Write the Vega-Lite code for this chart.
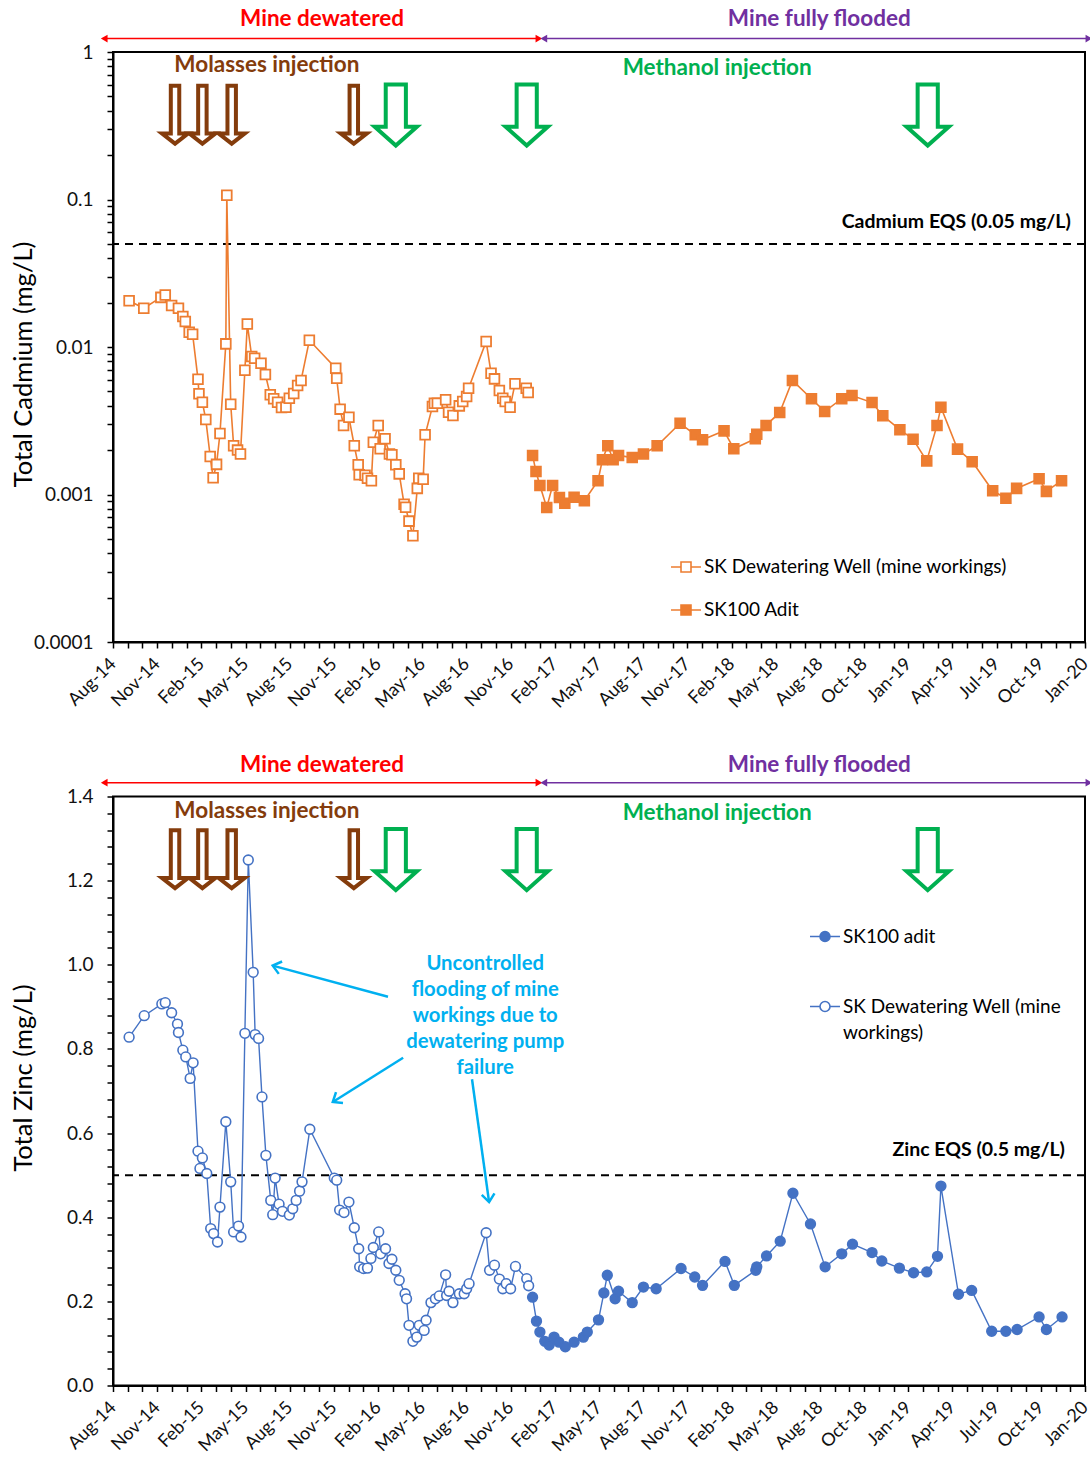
{
  "$schema": "https://vega.github.io/schema/vega-lite/v6.json",
  "background": "white",
  "padding": {"left": 10, "top": 7, "right": 0, "bottom": 0},
  "config": {
    "font": "Lato",
    "view": {"stroke": "black", "strokeWidth": 2},
    "style": {"guide-label": {"lineHeight": 26}},
    "axis": {"grid": false, "domainColor": "black", "domainWidth": 2, "tickColor": "black", "tickWidth": 1.5, "tickSize": 6, "labelColor": "#111111", "titleColor": "black", "titleFontWeight": "normal", "labelOverlap": false, "labelFlush": false, "labelBound": false, "tickCount": 1000},
    "legend": {"padding": 0}
  },
  "datasets": {
    "cd": [
      {"date": "2014-09-17", "value": 0.0206, "series": "SK Dewatering Well (mine workings)"},
      {"date": "2014-10-17", "value": 0.0183, "series": "SK Dewatering Well (mine workings)"},
      {"date": "2014-11-21", "value": 0.0217, "series": "SK Dewatering Well (mine workings)"},
      {"date": "2014-11-30", "value": 0.0225, "series": "SK Dewatering Well (mine workings)"},
      {"date": "2014-12-13", "value": 0.0191, "series": "SK Dewatering Well (mine workings)"},
      {"date": "2014-12-27", "value": 0.0183, "series": "SK Dewatering Well (mine workings)"},
      {"date": "2015-01-05", "value": 0.0161, "series": "SK Dewatering Well (mine workings)"},
      {"date": "2015-01-10", "value": 0.0149, "series": "SK Dewatering Well (mine workings)"},
      {"date": "2015-01-18", "value": 0.0126, "series": "SK Dewatering Well (mine workings)"},
      {"date": "2015-01-25", "value": 0.0122, "series": "SK Dewatering Well (mine workings)"},
      {"date": "2015-02-05", "value": 0.00605, "series": "SK Dewatering Well (mine workings)"},
      {"date": "2015-02-07", "value": 0.00482, "series": "SK Dewatering Well (mine workings)"},
      {"date": "2015-02-14", "value": 0.00422, "series": "SK Dewatering Well (mine workings)"},
      {"date": "2015-02-21", "value": 0.00322, "series": "SK Dewatering Well (mine workings)"},
      {"date": "2015-03-02", "value": 0.00181, "series": "SK Dewatering Well (mine workings)"},
      {"date": "2015-03-08", "value": 0.0013, "series": "SK Dewatering Well (mine workings)"},
      {"date": "2015-03-15", "value": 0.0016, "series": "SK Dewatering Well (mine workings)"},
      {"date": "2015-03-22", "value": 0.00259, "series": "SK Dewatering Well (mine workings)"},
      {"date": "2015-04-03", "value": 0.0105, "series": "SK Dewatering Well (mine workings)"},
      {"date": "2015-04-05", "value": 0.107, "series": "SK Dewatering Well (mine workings)"},
      {"date": "2015-04-13", "value": 0.00409, "series": "SK Dewatering Well (mine workings)"},
      {"date": "2015-04-19", "value": 0.00214, "series": "SK Dewatering Well (mine workings)"},
      {"date": "2015-04-27", "value": 0.0020, "series": "SK Dewatering Well (mine workings)"},
      {"date": "2015-05-03", "value": 0.00188, "series": "SK Dewatering Well (mine workings)"},
      {"date": "2015-05-12", "value": 0.00696, "series": "SK Dewatering Well (mine workings)"},
      {"date": "2015-05-17", "value": 0.0143, "series": "SK Dewatering Well (mine workings)"},
      {"date": "2015-05-26", "value": 0.00862, "series": "SK Dewatering Well (mine workings)"},
      {"date": "2015-06-01", "value": 0.0084, "series": "SK Dewatering Well (mine workings)"},
      {"date": "2015-06-14", "value": 0.00777, "series": "SK Dewatering Well (mine workings)"},
      {"date": "2015-06-23", "value": 0.00651, "series": "SK Dewatering Well (mine workings)"},
      {"date": "2015-07-03", "value": 0.00474, "series": "SK Dewatering Well (mine workings)"},
      {"date": "2015-07-10", "value": 0.00446, "series": "SK Dewatering Well (mine workings)"},
      {"date": "2015-07-18", "value": 0.00422, "series": "SK Dewatering Well (mine workings)"},
      {"date": "2015-07-26", "value": 0.00389, "series": "SK Dewatering Well (mine workings)"},
      {"date": "2015-08-04", "value": 0.00391, "series": "SK Dewatering Well (mine workings)"},
      {"date": "2015-08-11", "value": 0.0045, "series": "SK Dewatering Well (mine workings)"},
      {"date": "2015-08-20", "value": 0.00484, "series": "SK Dewatering Well (mine workings)"},
      {"date": "2015-08-28", "value": 0.00548, "series": "SK Dewatering Well (mine workings)"},
      {"date": "2015-09-04", "value": 0.00593, "series": "SK Dewatering Well (mine workings)"},
      {"date": "2015-09-21", "value": 0.0111, "series": "SK Dewatering Well (mine workings)"},
      {"date": "2015-11-14", "value": 0.00718, "series": "SK Dewatering Well (mine workings)"},
      {"date": "2015-11-16", "value": 0.00614, "series": "SK Dewatering Well (mine workings)"},
      {"date": "2015-11-23", "value": 0.00379, "series": "SK Dewatering Well (mine workings)"},
      {"date": "2015-11-30", "value": 0.00294, "series": "SK Dewatering Well (mine workings)"},
      {"date": "2015-12-11", "value": 0.00334, "series": "SK Dewatering Well (mine workings)"},
      {"date": "2015-12-22", "value": 0.00214, "series": "SK Dewatering Well (mine workings)"},
      {"date": "2015-12-30", "value": 0.00159, "series": "SK Dewatering Well (mine workings)"},
      {"date": "2016-01-01", "value": 0.00136, "series": "SK Dewatering Well (mine workings)"},
      {"date": "2016-01-13", "value": 0.00135, "series": "SK Dewatering Well (mine workings)"},
      {"date": "2016-01-18", "value": 0.00129, "series": "SK Dewatering Well (mine workings)"},
      {"date": "2016-01-26", "value": 0.00124, "series": "SK Dewatering Well (mine workings)"},
      {"date": "2016-01-30", "value": 0.00226, "series": "SK Dewatering Well (mine workings)"},
      {"date": "2016-02-09", "value": 0.00294, "series": "SK Dewatering Well (mine workings)"},
      {"date": "2016-02-13", "value": 0.00204, "series": "SK Dewatering Well (mine workings)"},
      {"date": "2016-02-23", "value": 0.00239, "series": "SK Dewatering Well (mine workings)"},
      {"date": "2016-03-03", "value": 0.00188, "series": "SK Dewatering Well (mine workings)"},
      {"date": "2016-03-08", "value": 0.00186, "series": "SK Dewatering Well (mine workings)"},
      {"date": "2016-03-16", "value": 0.00159, "series": "SK Dewatering Well (mine workings)"},
      {"date": "2016-03-23", "value": 0.00138, "series": "SK Dewatering Well (mine workings)"},
      {"date": "2016-04-02", "value": 0.00086, "series": "SK Dewatering Well (mine workings)"},
      {"date": "2016-04-05", "value": 0.00082, "series": "SK Dewatering Well (mine workings)"},
      {"date": "2016-04-12", "value": 0.00066, "series": "SK Dewatering Well (mine workings)"},
      {"date": "2016-04-20", "value": 0.000525, "series": "SK Dewatering Well (mine workings)"},
      {"date": "2016-04-29", "value": 0.0011, "series": "SK Dewatering Well (mine workings)"},
      {"date": "2016-05-02", "value": 0.00129, "series": "SK Dewatering Well (mine workings)"},
      {"date": "2016-05-11", "value": 0.00127, "series": "SK Dewatering Well (mine workings)"},
      {"date": "2016-05-15", "value": 0.00254, "series": "SK Dewatering Well (mine workings)"},
      {"date": "2016-05-30", "value": 0.00395, "series": "SK Dewatering Well (mine workings)"},
      {"date": "2016-06-03", "value": 0.00416, "series": "SK Dewatering Well (mine workings)"},
      {"date": "2016-06-09", "value": 0.00416, "series": "SK Dewatering Well (mine workings)"},
      {"date": "2016-06-26", "value": 0.00439, "series": "SK Dewatering Well (mine workings)"},
      {"date": "2016-07-02", "value": 0.00361, "series": "SK Dewatering Well (mine workings)"},
      {"date": "2016-07-11", "value": 0.00343, "series": "SK Dewatering Well (mine workings)"},
      {"date": "2016-07-24", "value": 0.00399, "series": "SK Dewatering Well (mine workings)"},
      {"date": "2016-07-31", "value": 0.00427, "series": "SK Dewatering Well (mine workings)"},
      {"date": "2016-08-08", "value": 0.00462, "series": "SK Dewatering Well (mine workings)"},
      {"date": "2016-08-12", "value": 0.00526, "series": "SK Dewatering Well (mine workings)"},
      {"date": "2016-09-17", "value": 0.0109, "series": "SK Dewatering Well (mine workings)"},
      {"date": "2016-09-27", "value": 0.00664, "series": "SK Dewatering Well (mine workings)"},
      {"date": "2016-10-04", "value": 0.00608, "series": "SK Dewatering Well (mine workings)"},
      {"date": "2016-10-14", "value": 0.00507, "series": "SK Dewatering Well (mine workings)"},
      {"date": "2016-10-21", "value": 0.0045, "series": "SK Dewatering Well (mine workings)"},
      {"date": "2016-10-26", "value": 0.00427, "series": "SK Dewatering Well (mine workings)"},
      {"date": "2016-11-05", "value": 0.00391, "series": "SK Dewatering Well (mine workings)"},
      {"date": "2016-11-15", "value": 0.00563, "series": "SK Dewatering Well (mine workings)"},
      {"date": "2016-12-08", "value": 0.00526, "series": "SK Dewatering Well (mine workings)"},
      {"date": "2016-12-12", "value": 0.00492, "series": "SK Dewatering Well (mine workings)"},
      {"date": "2016-12-21", "value": 0.00184, "series": "SK100 Adit"},
      {"date": "2016-12-28", "value": 0.00143, "series": "SK100 Adit"},
      {"date": "2017-01-05", "value": 0.00115, "series": "SK100 Adit"},
      {"date": "2017-01-19", "value": 0.000817, "series": "SK100 Adit"},
      {"date": "2017-01-31", "value": 0.00115, "series": "SK100 Adit"},
      {"date": "2017-02-14", "value": 0.000955, "series": "SK100 Adit"},
      {"date": "2017-02-25", "value": 0.000873, "series": "SK100 Adit"},
      {"date": "2017-03-16", "value": 0.000959, "series": "SK100 Adit"},
      {"date": "2017-04-06", "value": 0.000906, "series": "SK100 Adit"},
      {"date": "2017-05-04", "value": 0.00124, "series": "SK100 Adit"},
      {"date": "2017-05-13", "value": 0.00172, "series": "SK100 Adit"},
      {"date": "2017-05-24", "value": 0.00214, "series": "SK100 Adit"},
      {"date": "2017-06-04", "value": 0.00172, "series": "SK100 Adit"},
      {"date": "2017-06-15", "value": 0.00184, "series": "SK100 Adit"},
      {"date": "2017-07-13", "value": 0.00178, "series": "SK100 Adit"},
      {"date": "2017-08-05", "value": 0.00188, "series": "SK100 Adit"},
      {"date": "2017-09-02", "value": 0.00214, "series": "SK100 Adit"},
      {"date": "2017-10-19", "value": 0.00304, "series": "SK100 Adit"},
      {"date": "2017-11-19", "value": 0.00254, "series": "SK100 Adit"},
      {"date": "2017-12-04", "value": 0.00235, "series": "SK100 Adit"},
      {"date": "2018-01-17", "value": 0.0027, "series": "SK100 Adit"},
      {"date": "2018-02-06", "value": 0.00204, "series": "SK100 Adit"},
      {"date": "2018-03-22", "value": 0.00239, "series": "SK100 Adit"},
      {"date": "2018-03-25", "value": 0.00256, "series": "SK100 Adit"},
      {"date": "2018-04-13", "value": 0.00294, "series": "SK100 Adit"},
      {"date": "2018-05-11", "value": 0.0036, "series": "SK100 Adit"},
      {"date": "2018-06-06", "value": 0.00593, "series": "SK100 Adit"},
      {"date": "2018-07-15", "value": 0.00446, "series": "SK100 Adit"},
      {"date": "2018-08-11", "value": 0.00365, "series": "SK100 Adit"},
      {"date": "2018-09-15", "value": 0.00446, "series": "SK100 Adit"},
      {"date": "2018-10-06", "value": 0.00469, "series": "SK100 Adit"},
      {"date": "2018-11-16", "value": 0.0042, "series": "SK100 Adit"},
      {"date": "2018-12-08", "value": 0.00342, "series": "SK100 Adit"},
      {"date": "2019-01-12", "value": 0.00275, "series": "SK100 Adit"},
      {"date": "2019-02-08", "value": 0.00237, "series": "SK100 Adit"},
      {"date": "2019-03-08", "value": 0.00169, "series": "SK100 Adit"},
      {"date": "2019-03-29", "value": 0.00294, "series": "SK100 Adit"},
      {"date": "2019-04-06", "value": 0.00391, "series": "SK100 Adit"},
      {"date": "2019-05-10", "value": 0.00203, "series": "SK100 Adit"},
      {"date": "2019-06-09", "value": 0.00167, "series": "SK100 Adit"},
      {"date": "2019-07-21", "value": 0.00106, "series": "SK100 Adit"},
      {"date": "2019-08-17", "value": 0.000944, "series": "SK100 Adit"},
      {"date": "2019-09-08", "value": 0.0011, "series": "SK100 Adit"},
      {"date": "2019-10-24", "value": 0.00128, "series": "SK100 Adit"},
      {"date": "2019-11-08", "value": 0.00105, "series": "SK100 Adit"},
      {"date": "2019-12-09", "value": 0.00124, "series": "SK100 Adit"}
    ],
    "zn": [
      {"date": "2014-09-17", "value": 0.828, "series": "SK Dewatering Well (mine workings)"},
      {"date": "2014-10-18", "value": 0.879, "series": "SK Dewatering Well (mine workings)"},
      {"date": "2014-11-23", "value": 0.907, "series": "SK Dewatering Well (mine workings)"},
      {"date": "2014-11-30", "value": 0.910, "series": "SK Dewatering Well (mine workings)"},
      {"date": "2014-12-13", "value": 0.886, "series": "SK Dewatering Well (mine workings)"},
      {"date": "2014-12-25", "value": 0.859, "series": "SK Dewatering Well (mine workings)"},
      {"date": "2014-12-27", "value": 0.839, "series": "SK Dewatering Well (mine workings)"},
      {"date": "2015-01-05", "value": 0.797, "series": "SK Dewatering Well (mine workings)"},
      {"date": "2015-01-11", "value": 0.781, "series": "SK Dewatering Well (mine workings)"},
      {"date": "2015-01-20", "value": 0.730, "series": "SK Dewatering Well (mine workings)"},
      {"date": "2015-01-26", "value": 0.767, "series": "SK Dewatering Well (mine workings)"},
      {"date": "2015-02-05", "value": 0.557, "series": "SK Dewatering Well (mine workings)"},
      {"date": "2015-02-09", "value": 0.516, "series": "SK Dewatering Well (mine workings)"},
      {"date": "2015-02-14", "value": 0.541, "series": "SK Dewatering Well (mine workings)"},
      {"date": "2015-02-23", "value": 0.504, "series": "SK Dewatering Well (mine workings)"},
      {"date": "2015-03-03", "value": 0.373, "series": "SK Dewatering Well (mine workings)"},
      {"date": "2015-03-09", "value": 0.361, "series": "SK Dewatering Well (mine workings)"},
      {"date": "2015-03-17", "value": 0.341, "series": "SK Dewatering Well (mine workings)"},
      {"date": "2015-03-22", "value": 0.424, "series": "SK Dewatering Well (mine workings)"},
      {"date": "2015-04-03", "value": 0.627, "series": "SK Dewatering Well (mine workings)"},
      {"date": "2015-04-13", "value": 0.484, "series": "SK Dewatering Well (mine workings)"},
      {"date": "2015-04-19", "value": 0.365, "series": "SK Dewatering Well (mine workings)"},
      {"date": "2015-04-29", "value": 0.379, "series": "SK Dewatering Well (mine workings)"},
      {"date": "2015-05-04", "value": 0.353, "series": "SK Dewatering Well (mine workings)"},
      {"date": "2015-05-12", "value": 0.837, "series": "SK Dewatering Well (mine workings)"},
      {"date": "2015-05-19", "value": 1.249, "series": "SK Dewatering Well (mine workings)"},
      {"date": "2015-05-29", "value": 0.982, "series": "SK Dewatering Well (mine workings)"},
      {"date": "2015-06-02", "value": 0.834, "series": "SK Dewatering Well (mine workings)"},
      {"date": "2015-06-09", "value": 0.825, "series": "SK Dewatering Well (mine workings)"},
      {"date": "2015-06-16", "value": 0.686, "series": "SK Dewatering Well (mine workings)"},
      {"date": "2015-06-24", "value": 0.547, "series": "SK Dewatering Well (mine workings)"},
      {"date": "2015-07-04", "value": 0.440, "series": "SK Dewatering Well (mine workings)"},
      {"date": "2015-07-08", "value": 0.406, "series": "SK Dewatering Well (mine workings)"},
      {"date": "2015-07-13", "value": 0.493, "series": "SK Dewatering Well (mine workings)"},
      {"date": "2015-07-21", "value": 0.431, "series": "SK Dewatering Well (mine workings)"},
      {"date": "2015-07-28", "value": 0.414, "series": "SK Dewatering Well (mine workings)"},
      {"date": "2015-08-11", "value": 0.405, "series": "SK Dewatering Well (mine workings)"},
      {"date": "2015-08-18", "value": 0.420, "series": "SK Dewatering Well (mine workings)"},
      {"date": "2015-08-25", "value": 0.440, "series": "SK Dewatering Well (mine workings)"},
      {"date": "2015-09-01", "value": 0.462, "series": "SK Dewatering Well (mine workings)"},
      {"date": "2015-09-06", "value": 0.484, "series": "SK Dewatering Well (mine workings)"},
      {"date": "2015-09-22", "value": 0.609, "series": "SK Dewatering Well (mine workings)"},
      {"date": "2015-11-11", "value": 0.493, "series": "SK Dewatering Well (mine workings)"},
      {"date": "2015-11-16", "value": 0.488, "series": "SK Dewatering Well (mine workings)"},
      {"date": "2015-11-22", "value": 0.417, "series": "SK Dewatering Well (mine workings)"},
      {"date": "2015-12-01", "value": 0.411, "series": "SK Dewatering Well (mine workings)"},
      {"date": "2015-12-11", "value": 0.436, "series": "SK Dewatering Well (mine workings)"},
      {"date": "2015-12-22", "value": 0.375, "series": "SK Dewatering Well (mine workings)"},
      {"date": "2015-12-31", "value": 0.325, "series": "SK Dewatering Well (mine workings)"},
      {"date": "2016-01-02", "value": 0.282, "series": "SK Dewatering Well (mine workings)"},
      {"date": "2016-01-10", "value": 0.278, "series": "SK Dewatering Well (mine workings)"},
      {"date": "2016-01-18", "value": 0.279, "series": "SK Dewatering Well (mine workings)"},
      {"date": "2016-01-25", "value": 0.302, "series": "SK Dewatering Well (mine workings)"},
      {"date": "2016-01-30", "value": 0.328, "series": "SK Dewatering Well (mine workings)"},
      {"date": "2016-02-10", "value": 0.365, "series": "SK Dewatering Well (mine workings)"},
      {"date": "2016-02-14", "value": 0.313, "series": "SK Dewatering Well (mine workings)"},
      {"date": "2016-02-24", "value": 0.325, "series": "SK Dewatering Well (mine workings)"},
      {"date": "2016-03-02", "value": 0.290, "series": "SK Dewatering Well (mine workings)"},
      {"date": "2016-03-08", "value": 0.300, "series": "SK Dewatering Well (mine workings)"},
      {"date": "2016-03-16", "value": 0.274, "series": "SK Dewatering Well (mine workings)"},
      {"date": "2016-03-23", "value": 0.250, "series": "SK Dewatering Well (mine workings)"},
      {"date": "2016-04-04", "value": 0.218, "series": "SK Dewatering Well (mine workings)"},
      {"date": "2016-04-07", "value": 0.206, "series": "SK Dewatering Well (mine workings)"},
      {"date": "2016-04-12", "value": 0.143, "series": "SK Dewatering Well (mine workings)"},
      {"date": "2016-04-20", "value": 0.105, "series": "SK Dewatering Well (mine workings)"},
      {"date": "2016-04-28", "value": 0.115, "series": "SK Dewatering Well (mine workings)"},
      {"date": "2016-05-03", "value": 0.143, "series": "SK Dewatering Well (mine workings)"},
      {"date": "2016-05-13", "value": 0.131, "series": "SK Dewatering Well (mine workings)"},
      {"date": "2016-05-17", "value": 0.155, "series": "SK Dewatering Well (mine workings)"},
      {"date": "2016-05-27", "value": 0.197, "series": "SK Dewatering Well (mine workings)"},
      {"date": "2016-06-05", "value": 0.206, "series": "SK Dewatering Well (mine workings)"},
      {"date": "2016-06-13", "value": 0.213, "series": "SK Dewatering Well (mine workings)"},
      {"date": "2016-06-26", "value": 0.263, "series": "SK Dewatering Well (mine workings)"},
      {"date": "2016-06-28", "value": 0.214, "series": "SK Dewatering Well (mine workings)"},
      {"date": "2016-07-03", "value": 0.224, "series": "SK Dewatering Well (mine workings)"},
      {"date": "2016-07-11", "value": 0.197, "series": "SK Dewatering Well (mine workings)"},
      {"date": "2016-07-24", "value": 0.218, "series": "SK Dewatering Well (mine workings)"},
      {"date": "2016-08-03", "value": 0.218, "series": "SK Dewatering Well (mine workings)"},
      {"date": "2016-08-08", "value": 0.230, "series": "SK Dewatering Well (mine workings)"},
      {"date": "2016-08-13", "value": 0.242, "series": "SK Dewatering Well (mine workings)"},
      {"date": "2016-09-17", "value": 0.363, "series": "SK Dewatering Well (mine workings)"},
      {"date": "2016-09-24", "value": 0.274, "series": "SK Dewatering Well (mine workings)"},
      {"date": "2016-10-04", "value": 0.286, "series": "SK Dewatering Well (mine workings)"},
      {"date": "2016-10-14", "value": 0.253, "series": "SK Dewatering Well (mine workings)"},
      {"date": "2016-10-21", "value": 0.230, "series": "SK Dewatering Well (mine workings)"},
      {"date": "2016-10-28", "value": 0.242, "series": "SK Dewatering Well (mine workings)"},
      {"date": "2016-11-06", "value": 0.230, "series": "SK Dewatering Well (mine workings)"},
      {"date": "2016-11-16", "value": 0.283, "series": "SK Dewatering Well (mine workings)"},
      {"date": "2016-12-09", "value": 0.254, "series": "SK Dewatering Well (mine workings)"},
      {"date": "2016-12-13", "value": 0.237, "series": "SK Dewatering Well (mine workings)"},
      {"date": "2016-12-21", "value": 0.210, "series": "SK100 adit"},
      {"date": "2016-12-29", "value": 0.153, "series": "SK100 adit"},
      {"date": "2017-01-05", "value": 0.127, "series": "SK100 adit"},
      {"date": "2017-01-15", "value": 0.105, "series": "SK100 adit"},
      {"date": "2017-01-24", "value": 0.096, "series": "SK100 adit"},
      {"date": "2017-02-03", "value": 0.115, "series": "SK100 adit"},
      {"date": "2017-02-13", "value": 0.103, "series": "SK100 adit"},
      {"date": "2017-02-26", "value": 0.092, "series": "SK100 adit"},
      {"date": "2017-03-16", "value": 0.103, "series": "SK100 adit"},
      {"date": "2017-04-04", "value": 0.115, "series": "SK100 adit"},
      {"date": "2017-04-12", "value": 0.127, "series": "SK100 adit"},
      {"date": "2017-05-05", "value": 0.156, "series": "SK100 adit"},
      {"date": "2017-05-16", "value": 0.220, "series": "SK100 adit"},
      {"date": "2017-05-23", "value": 0.262, "series": "SK100 adit"},
      {"date": "2017-06-08", "value": 0.206, "series": "SK100 adit"},
      {"date": "2017-06-15", "value": 0.224, "series": "SK100 adit"},
      {"date": "2017-07-13", "value": 0.197, "series": "SK100 adit"},
      {"date": "2017-08-05", "value": 0.234, "series": "SK100 adit"},
      {"date": "2017-08-31", "value": 0.230, "series": "SK100 adit"},
      {"date": "2017-10-21", "value": 0.278, "series": "SK100 adit"},
      {"date": "2017-11-18", "value": 0.258, "series": "SK100 adit"},
      {"date": "2017-12-04", "value": 0.238, "series": "SK100 adit"},
      {"date": "2018-01-19", "value": 0.295, "series": "SK100 adit"},
      {"date": "2018-02-07", "value": 0.238, "series": "SK100 adit"},
      {"date": "2018-03-23", "value": 0.274, "series": "SK100 adit"},
      {"date": "2018-03-25", "value": 0.282, "series": "SK100 adit"},
      {"date": "2018-04-14", "value": 0.308, "series": "SK100 adit"},
      {"date": "2018-05-12", "value": 0.343, "series": "SK100 adit"},
      {"date": "2018-06-07", "value": 0.457, "series": "SK100 adit"},
      {"date": "2018-07-13", "value": 0.384, "series": "SK100 adit"},
      {"date": "2018-08-12", "value": 0.282, "series": "SK100 adit"},
      {"date": "2018-09-15", "value": 0.313, "series": "SK100 adit"},
      {"date": "2018-10-07", "value": 0.336, "series": "SK100 adit"},
      {"date": "2018-11-16", "value": 0.316, "series": "SK100 adit"},
      {"date": "2018-12-06", "value": 0.296, "series": "SK100 adit"},
      {"date": "2019-01-11", "value": 0.279, "series": "SK100 adit"},
      {"date": "2019-02-09", "value": 0.268, "series": "SK100 adit"},
      {"date": "2019-03-08", "value": 0.270, "series": "SK100 adit"},
      {"date": "2019-03-30", "value": 0.307, "series": "SK100 adit"},
      {"date": "2019-04-06", "value": 0.474, "series": "SK100 adit"},
      {"date": "2019-05-12", "value": 0.217, "series": "SK100 adit"},
      {"date": "2019-06-08", "value": 0.226, "series": "SK100 adit"},
      {"date": "2019-07-19", "value": 0.129, "series": "SK100 adit"},
      {"date": "2019-08-17", "value": 0.129, "series": "SK100 adit"},
      {"date": "2019-09-09", "value": 0.133, "series": "SK100 adit"},
      {"date": "2019-10-24", "value": 0.163, "series": "SK100 adit"},
      {"date": "2019-11-08", "value": 0.133, "series": "SK100 adit"},
      {"date": "2019-12-10", "value": 0.163, "series": "SK100 adit"}
    ],
    "phases": [
      {"kind": "dewatered", "date": "2014-07-28", "date2": "2017-01-03"},
      {"kind": "flooded", "date": "2017-01-13", "date2": "2020-02-03"}
    ],
    "phaseEnds": [
      {"kind": "dewatered", "end": "start", "date": "2014-07-28"},
      {"kind": "dewatered", "end": "end", "date": "2017-01-03"},
      {"kind": "flooded", "end": "start", "date": "2017-01-13"},
      {"kind": "flooded", "end": "end", "date": "2020-02-03"}
    ],
    "injections": [
      {"kind": "molasses", "date": "2014-12-20"},
      {"kind": "molasses", "date": "2015-02-14"},
      {"kind": "molasses", "date": "2015-04-15"},
      {"kind": "molasses", "date": "2015-12-21"},
      {"kind": "methanol", "date": "2016-03-16"},
      {"kind": "methanol", "date": "2016-12-09"},
      {"kind": "methanol", "date": "2019-03-10"}
    ],
    "notesTop": [
      {"label": "Mine dewatered", "kind": "dewatered", "date": "2015-10-17", "value": 1.661},
      {"label": "Mine fully flooded", "kind": "flooded", "date": "2018-07-31", "value": 1.661},
      {"label": "Molasses  injection", "kind": "molasses", "date": "2015-06-26", "value": 0.81},
      {"label": "Methanol  injection", "kind": "methanol", "date": "2018-01-03", "value": 0.773}
    ],
    "notesBottom": [
      {"label": "Mine dewatered", "kind": "dewatered", "date": "2015-10-17", "value": 1.4756},
      {"label": "Mine fully flooded", "kind": "flooded", "date": "2018-07-31", "value": 1.4756},
      {"label": "Molasses  injection", "kind": "molasses", "date": "2015-06-26", "value": 1.3662},
      {"label": "Methanol  injection", "kind": "methanol", "date": "2018-01-03", "value": 1.3614}
    ],
    "callouts": [
      {"id": "a1", "date": "2015-07-08", "value": 0.998, "date2": "2016-02-29", "value2": 0.924},
      {"id": "a2", "date": "2015-11-08", "value": 0.674, "date2": "2016-03-31", "value2": 0.779},
      {"id": "a3", "date": "2016-09-23", "value": 0.436, "date2": "2016-08-19", "value2": 0.728}
    ]
  },
  "spacing": 154.5,
  "bounds": "flush",
  "resolve": {"scale": {"fill": "independent", "color": "independent", "shape": "independent"}, "legend": {"fill": "independent"}},
  "vconcat": [
    {
      "width": 972,
      "height": 590,
      "layer": [
        {
          "data": {"values": [{}]},
          "mark": {"type": "rule", "color": "black", "strokeWidth": 2, "strokeDash": [8, 6]},
          "encoding": {"y": {"datum": 0.05, "type": "quantitative", "scale": {"type": "log", "domain": [0.0001, 1]}}}
        },
        {
          "data": {"name": "cd"},
          "mark": {"type": "line", "color": "#ED7D31", "strokeWidth": 1.6},
          "encoding": {
            "x": {"field": "date", "type": "temporal", "scale": {"domain": [1408060800000, 1579996800000]},
              "axis": {"title": null, "tickCount": 1000,
                "values": [1408060800000,1410665890909,1413270981818,1415876072727,1418481163636,1421086254545,1423691345455,1426296436364,1428901527273,1431506618182,1434111709091,1436716800000,1439321890909,1441926981818,1444532072727,1447137163636,1449742254545,1452347345455,1454952436364,1457557527273,1460162618182,1462767709091,1465372800000,1467977890909,1470582981818,1473188072727,1475793163636,1478398254545,1481003345455,1483608436364,1486213527273,1488818618182,1491423709091,1494028800000,1496633890909,1499238981818,1501844072727,1504449163636,1507054254545,1509659345455,1512264436364,1514869527273,1517474618182,1520079709091,1522684800000,1525289890909,1527894981818,1530500072727,1533105163636,1535710254545,1538315345455,1540920436364,1543525527273,1546130618182,1548735709091,1551340800000,1553945890909,1556550981818,1559156072727,1561761163636,1564366254545,1566971345455,1569576436364,1572181527273,1574786618182,1577391709091,1579996800000],
                "labelExpr": "round((datum.value - 1408060800000) / 2605090909.0909) % 3 == 0 ? ['Aug-14','Nov-14','Feb-15','May-15','Aug-15','Nov-15','Feb-16','May-16','Aug-16','Nov-16','Feb-17','May-17','Aug-17','Nov-17','Feb-18','May-18','Aug-18','Oct-18','Jan-19','Apr-19','Jul-19','Oct-19','Jan-20'][round((datum.value - 1408060800000) / 7815272727.2727)] : ''",
                "labelAngle": -45, "labelAlign": "right", "labelBaseline": "middle", "labelFontSize": 18, "labelPadding": 13}},
            "y": {"field": "value", "type": "quantitative", "scale": {"type": "log", "domain": [0.0001, 1]},
              "axis": {"title": "Total Cadmium (mg/L)", "titleFontSize": 25.5, "titleX": -90, "titleY": 312, "titleAngle": -90, "titleAlign": "center", "titleBaseline": "middle", "tickCount": 1000,
                "values": [0.0001,0.0002,0.0003,0.0004,0.0005,0.0006,0.0007,0.0008,0.0009,0.001,0.002,0.003,0.004,0.005,0.006,0.007,0.008,0.009,0.01,0.02,0.03,0.04,0.05,0.06,0.07,0.08,0.09,0.1,0.2,0.3,0.4,0.5,0.6,0.7,0.8,0.9,1],
                "labelExpr": "datum.value == 1 ? '1' : datum.value == 0.1 ? '0.1' : datum.value == 0.01 ? '0.01' : datum.value == 0.001 ? '0.001' : datum.value == 0.0001 ? '0.0001' : ''",
                "labelFontSize": 19, "labelPadding": 14}},
            "detail": {"field": "series"}
          }
        },
        {
          "data": {"name": "cd"},
          "mark": {"type": "point", "shape": "square", "size": 95, "filled": true, "stroke": "#ED7D31", "strokeWidth": 1.8, "opacity": 1},
          "encoding": {
            "x": {"field": "date", "type": "temporal", "scale": {"domain": [1408060800000, 1579996800000]}},
            "y": {"field": "value", "type": "quantitative", "scale": {"type": "log", "domain": [0.0001, 1]}},
            "fill": {"field": "series", "type": "nominal",
              "scale": {"domain": ["SK Dewatering Well (mine workings)", "SK100 Adit"], "range": ["white", "#ED7D31"]},
              "legend": {"title": null, "orient": "none", "legendX": 562, "legendY": 504,
                "symbolType": "M-1.5,0H-0.5M0.5,0H1.5M-0.5,-0.5H0.5V0.5H-0.5Z", "symbolSize": 400,
                "symbolStrokeColor": "#ED7D31", "symbolStrokeWidth": 1.6,
                "labelFontSize": 19, "labelColor": "black", "labelOffset": 7, "rowPadding": 22, "labelLimit": 500}}
          }
        },
        {
          "data": {"values": [{"label": "Cadmium EQS (0.05 mg/L)", "date": "2019-12-28", "value": 0.0709}]},
          "mark": {"type": "text", "align": "right", "baseline": "middle", "fontWeight": "bold", "fontSize": 19.5, "color": "black"},
          "encoding": {
            "x": {"field": "date", "type": "temporal", "scale": {"domain": [1408060800000, 1579996800000]}},
            "y": {"field": "value", "type": "quantitative", "scale": {"type": "log", "domain": [0.0001, 1]}},
            "text": {"field": "label"}
          }
        },
        {
          "data": {"name": "phases"},
          "mark": {"type": "rule", "strokeWidth": 1.6},
          "encoding": {
            "x": {"field": "date", "type": "temporal", "scale": {"domain": [1408060800000, 1579996800000]}},
            "x2": {"field": "date2"},
            "y": {"datum": 1.234, "type": "quantitative", "scale": {"type": "log", "domain": [0.0001, 1]}},
            "color": {"field": "kind", "type": "nominal", "legend": null, "scale": {"domain": ["dewatered", "flooded", "molasses", "methanol"], "range": ["#FF0000", "#7030A0", "#843C0C", "#00B050"]}}
          }
        },
        {
          "data": {"name": "phaseEnds"},
          "mark": {"type": "point", "filled": true, "size": 60, "opacity": 1},
          "encoding": {
            "x": {"field": "date", "type": "temporal", "scale": {"domain": [1408060800000, 1579996800000]}},
            "y": {"datum": 1.234, "type": "quantitative", "scale": {"type": "log", "domain": [0.0001, 1]}},
            "shape": {"field": "end", "type": "nominal", "legend": null, "scale": {"domain": ["molasses", "methanol", "start", "end"], "range": ["M-0.13,-0.92L0.13,-0.92L0.13,0.55L0.4,0.55L0,0.86L-0.4,0.55L-0.13,0.55Z", "M-0.31,-0.96L0.31,-0.96L0.31,0.34L0.65,0.34L0,0.92L-0.65,0.34L-0.31,0.34Z", "triangle-left", "triangle-right"]}},
            "color": {"field": "kind", "type": "nominal", "legend": null, "scale": {"domain": ["dewatered", "flooded", "molasses", "methanol"], "range": ["#FF0000", "#7030A0", "#843C0C", "#00B050"]}}
          }
        },
        {
          "data": {"name": "notesTop"},
          "mark": {"type": "text", "align": "center", "baseline": "middle", "fontWeight": "bold", "fontSize": 22.5},
          "encoding": {
            "x": {"field": "date", "type": "temporal", "scale": {"domain": [1408060800000, 1579996800000]}},
            "y": {"field": "value", "type": "quantitative", "scale": {"type": "log", "domain": [0.0001, 1]}},
            "text": {"field": "label"},
            "color": {"field": "kind", "type": "nominal", "legend": null, "scale": {"domain": ["dewatered", "flooded", "molasses", "methanol"], "range": ["#FF0000", "#7030A0", "#843C0C", "#00B050"]}}
          }
        },
        {
          "data": {"name": "injections"},
          "mark": {"type": "point", "filled": false, "fill": "white", "size": 4225, "strokeWidth": 4, "opacity": 1},
          "encoding": {
            "x": {"field": "date", "type": "temporal", "scale": {"domain": [1408060800000, 1579996800000]}},
            "y": {"datum": 0.37, "type": "quantitative", "scale": {"type": "log", "domain": [0.0001, 1]}},
            "shape": {"field": "kind", "type": "nominal", "legend": null, "scale": {"domain": ["molasses", "methanol", "start", "end"], "range": ["M-0.13,-0.92L0.13,-0.92L0.13,0.55L0.4,0.55L0,0.86L-0.4,0.55L-0.13,0.55Z", "M-0.31,-0.96L0.31,-0.96L0.31,0.34L0.65,0.34L0,0.92L-0.65,0.34L-0.31,0.34Z", "triangle-left", "triangle-right"]}},
            "color": {"field": "kind", "type": "nominal", "legend": null, "scale": {"domain": ["dewatered", "flooded", "molasses", "methanol"], "range": ["#FF0000", "#7030A0", "#843C0C", "#00B050"]}}
          }
        }
      ]
    },
    {
      "width": 972,
      "height": 589,
      "layer": [
        {
          "data": {"values": [{}]},
          "mark": {"type": "rule", "color": "black", "strokeWidth": 2, "strokeDash": [8, 6]},
          "encoding": {"y": {"datum": 0.5, "type": "quantitative", "scale": {"domain": [0, 1.4], "nice": false, "zero": false}}}
        },
        {
          "data": {"name": "zn"},
          "mark": {"type": "line", "color": "#4472C4", "strokeWidth": 1.4},
          "encoding": {
            "x": {"field": "date", "type": "temporal", "scale": {"domain": [1408060800000, 1579996800000]},
              "axis": {"title": null, "tickCount": 1000,
                "values": [1408060800000,1410665890909,1413270981818,1415876072727,1418481163636,1421086254545,1423691345455,1426296436364,1428901527273,1431506618182,1434111709091,1436716800000,1439321890909,1441926981818,1444532072727,1447137163636,1449742254545,1452347345455,1454952436364,1457557527273,1460162618182,1462767709091,1465372800000,1467977890909,1470582981818,1473188072727,1475793163636,1478398254545,1481003345455,1483608436364,1486213527273,1488818618182,1491423709091,1494028800000,1496633890909,1499238981818,1501844072727,1504449163636,1507054254545,1509659345455,1512264436364,1514869527273,1517474618182,1520079709091,1522684800000,1525289890909,1527894981818,1530500072727,1533105163636,1535710254545,1538315345455,1540920436364,1543525527273,1546130618182,1548735709091,1551340800000,1553945890909,1556550981818,1559156072727,1561761163636,1564366254545,1566971345455,1569576436364,1572181527273,1574786618182,1577391709091,1579996800000],
                "labelExpr": "round((datum.value - 1408060800000) / 2605090909.0909) % 3 == 0 ? ['Aug-14','Nov-14','Feb-15','May-15','Aug-15','Nov-15','Feb-16','May-16','Aug-16','Nov-16','Feb-17','May-17','Aug-17','Nov-17','Feb-18','May-18','Aug-18','Oct-18','Jan-19','Apr-19','Jul-19','Oct-19','Jan-20'][round((datum.value - 1408060800000) / 7815272727.2727)] : ''",
                "labelAngle": -45, "labelAlign": "right", "labelBaseline": "middle", "labelFontSize": 18, "labelPadding": 13}},
            "y": {"field": "value", "type": "quantitative", "scale": {"domain": [0, 1.4], "nice": false, "zero": false},
              "axis": {"title": "Total Zinc (mg/L)", "titleFontSize": 25.5, "titleX": -90, "titleY": 281, "titleAngle": -90, "titleAlign": "center", "titleBaseline": "middle", "tickCount": 1000,
                "values": [0,0.04,0.08,0.12,0.16,0.2,0.24,0.28,0.32,0.36,0.4,0.44,0.48,0.52,0.56,0.6,0.64,0.68,0.72,0.76,0.8,0.84,0.88,0.92,0.96,1,1.04,1.08,1.12,1.16,1.2,1.24,1.28,1.32,1.36,1.4],
                "labelExpr": "abs(datum.value * 5 - round(datum.value * 5)) < 0.001 ? format(datum.value, '.1f') : ''",
                "labelFontSize": 19, "labelPadding": 14}},
            "detail": {"field": "series"}
          }
        },
        {
          "data": {"name": "zn"},
          "mark": {"type": "point", "shape": "circle", "size": 95, "filled": true, "stroke": "#4472C4", "strokeWidth": 1.6, "opacity": 1},
          "encoding": {
            "x": {"field": "date", "type": "temporal", "scale": {"domain": [1408060800000, 1579996800000]}},
            "y": {"field": "value", "type": "quantitative", "scale": {"domain": [0, 1.4], "nice": false, "zero": false}},
            "fill": {"field": "series", "type": "nominal",
              "scale": {"domain": ["SK100 adit", "SK Dewatering Well (mine workings)"], "range": ["#4472C4", "white"]},
              "legend": {"title": null, "orient": "none", "legendX": 701, "legendY": 129,
                "symbolType": "M-1.5,0H-0.5M0.5,0A0.5,0.5,0,1,1,-0.5,0A0.5,0.5,0,1,1,0.5,0ZM0.5,0H1.5", "symbolSize": 400,
                "symbolStrokeColor": "#4472C4", "symbolStrokeWidth": 1.6,
                "labelExpr": "datum.label == 'SK Dewatering Well (mine workings)' ? ['SK Dewatering Well (mine', 'workings)'] : datum.label",
                "labelFontSize": 19, "labelColor": "black", "labelOffset": 7, "rowPadding": 49, "labelLimit": 500,
                "encode": {"labels": {"enter": {"lineHeight": {"value": 26}}, "update": {"lineHeight": {"value": 26}}}}}}
          }
        },
        {
          "data": {"values": [{"label": "Zinc EQS (0.5 mg/L)", "date": "2019-12-16", "value": 0.56}]},
          "mark": {"type": "text", "align": "right", "baseline": "middle", "fontWeight": "bold", "fontSize": 19.5, "color": "black"},
          "encoding": {
            "x": {"field": "date", "type": "temporal", "scale": {"domain": [1408060800000, 1579996800000]}},
            "y": {"field": "value", "type": "quantitative", "scale": {"domain": [0, 1.4], "nice": false, "zero": false}},
            "text": {"field": "label"}
          }
        },
        {
          "data": {"name": "phases"},
          "mark": {"type": "rule", "strokeWidth": 1.6},
          "encoding": {
            "x": {"field": "date", "type": "temporal", "scale": {"domain": [1408060800000, 1579996800000]}},
            "x2": {"field": "date2"},
            "y": {"datum": 1.4328, "type": "quantitative", "scale": {"domain": [0, 1.4], "nice": false, "zero": false}},
            "color": {"field": "kind", "type": "nominal", "legend": null, "scale": {"domain": ["dewatered", "flooded", "molasses", "methanol"], "range": ["#FF0000", "#7030A0", "#843C0C", "#00B050"]}}
          }
        },
        {
          "data": {"name": "phaseEnds"},
          "mark": {"type": "point", "filled": true, "size": 60, "opacity": 1},
          "encoding": {
            "x": {"field": "date", "type": "temporal", "scale": {"domain": [1408060800000, 1579996800000]}},
            "y": {"datum": 1.4328, "type": "quantitative", "scale": {"domain": [0, 1.4], "nice": false, "zero": false}},
            "shape": {"field": "end", "type": "nominal", "legend": null, "scale": {"domain": ["molasses", "methanol", "start", "end"], "range": ["M-0.13,-0.92L0.13,-0.92L0.13,0.55L0.4,0.55L0,0.86L-0.4,0.55L-0.13,0.55Z", "M-0.31,-0.96L0.31,-0.96L0.31,0.34L0.65,0.34L0,0.92L-0.65,0.34L-0.31,0.34Z", "triangle-left", "triangle-right"]}},
            "color": {"field": "kind", "type": "nominal", "legend": null, "scale": {"domain": ["dewatered", "flooded", "molasses", "methanol"], "range": ["#FF0000", "#7030A0", "#843C0C", "#00B050"]}}
          }
        },
        {
          "data": {"name": "notesBottom"},
          "mark": {"type": "text", "align": "center", "baseline": "middle", "fontWeight": "bold", "fontSize": 22.5},
          "encoding": {
            "x": {"field": "date", "type": "temporal", "scale": {"domain": [1408060800000, 1579996800000]}},
            "y": {"field": "value", "type": "quantitative", "scale": {"domain": [0, 1.4], "nice": false, "zero": false}},
            "text": {"field": "label"},
            "color": {"field": "kind", "type": "nominal", "legend": null, "scale": {"domain": ["dewatered", "flooded", "molasses", "methanol"], "range": ["#FF0000", "#7030A0", "#843C0C", "#00B050"]}}
          }
        },
        {
          "data": {"name": "injections"},
          "mark": {"type": "point", "filled": false, "fill": "white", "size": 4225, "strokeWidth": 4, "opacity": 1},
          "encoding": {
            "x": {"field": "date", "type": "temporal", "scale": {"domain": [1408060800000, 1579996800000]}},
            "y": {"datum": 1.2485, "type": "quantitative", "scale": {"domain": [0, 1.4], "nice": false, "zero": false}},
            "shape": {"field": "kind", "type": "nominal", "legend": null, "scale": {"domain": ["molasses", "methanol", "start", "end"], "range": ["M-0.13,-0.92L0.13,-0.92L0.13,0.55L0.4,0.55L0,0.86L-0.4,0.55L-0.13,0.55Z", "M-0.31,-0.96L0.31,-0.96L0.31,0.34L0.65,0.34L0,0.92L-0.65,0.34L-0.31,0.34Z", "triangle-left", "triangle-right"]}},
            "color": {"field": "kind", "type": "nominal", "legend": null, "scale": {"domain": ["dewatered", "flooded", "molasses", "methanol"], "range": ["#FF0000", "#7030A0", "#843C0C", "#00B050"]}}
          }
        },
        {
          "data": {"name": "callouts"},
          "mark": {"type": "rule", "color": "#00B0F0", "strokeWidth": 2.5},
          "encoding": {
            "x": {"field": "date", "type": "temporal", "scale": {"domain": [1408060800000, 1579996800000]}},
            "y": {"field": "value", "type": "quantitative", "scale": {"domain": [0, 1.4], "nice": false, "zero": false}},
            "x2": {"field": "date2"},
            "y2": {"field": "value2"}
          }
        },
        {
          "data": {"name": "callouts"},
          "transform": [{"filter": "datum.id == 'a1'"}],
          "mark": {"type": "point", "shape": "M-0.8,1L0,0L0.8,1", "size": 256, "filled": false, "color": "#00B0F0", "strokeWidth": 2.5, "angle": 285, "opacity": 1},
          "encoding": {
            "x": {"field": "date", "type": "temporal", "scale": {"domain": [1408060800000, 1579996800000]}},
            "y": {"field": "value", "type": "quantitative", "scale": {"domain": [0, 1.4], "nice": false, "zero": false}}
          }
        },
        {
          "data": {"name": "callouts"},
          "transform": [{"filter": "datum.id == 'a2'"}],
          "mark": {"type": "point", "shape": "M-0.8,1L0,0L0.8,1", "size": 256, "filled": false, "color": "#00B0F0", "strokeWidth": 2.5, "angle": 237, "opacity": 1},
          "encoding": {
            "x": {"field": "date", "type": "temporal", "scale": {"domain": [1408060800000, 1579996800000]}},
            "y": {"field": "value", "type": "quantitative", "scale": {"domain": [0, 1.4], "nice": false, "zero": false}}
          }
        },
        {
          "data": {"name": "callouts"},
          "transform": [{"filter": "datum.id == 'a3'"}],
          "mark": {"type": "point", "shape": "M-0.8,1L0,0L0.8,1", "size": 256, "filled": false, "color": "#00B0F0", "strokeWidth": 2.5, "angle": 173, "opacity": 1},
          "encoding": {
            "x": {"field": "date", "type": "temporal", "scale": {"domain": [1408060800000, 1579996800000]}},
            "y": {"field": "value", "type": "quantitative", "scale": {"domain": [0, 1.4], "nice": false, "zero": false}}
          }
        },
        {
          "data": {"values": [{"lines": ["Uncontrolled", "flooding of mine", "workings due to", "dewatering pump", "failure"], "date": "2016-09-15", "value": 1.002}]},
          "mark": {"type": "text", "color": "#00B0F0", "fontWeight": "bold", "fontSize": 20.3, "lineHeight": 26, "align": "center", "baseline": "middle"},
          "encoding": {
            "x": {"field": "date", "type": "temporal", "scale": {"domain": [1408060800000, 1579996800000]}},
            "y": {"field": "value", "type": "quantitative", "scale": {"domain": [0, 1.4], "nice": false, "zero": false}},
            "text": {"field": "lines"}
          }
        }
      ]
    }
  ]
}
